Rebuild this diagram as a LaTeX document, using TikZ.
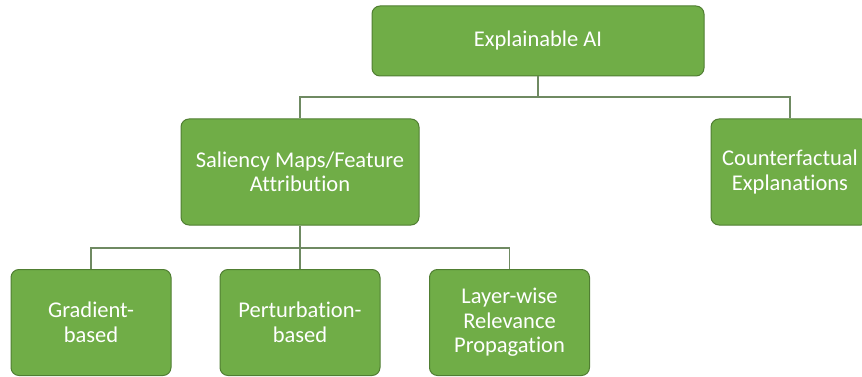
\documentclass[tikz,border=0pt]{standalone}
\usepackage{fontspec}
\setmainfont[Ligatures=NoCommon]{Carlito}
\begin{document}
\begin{tikzpicture}[x=1pt,y=-1pt,
  box/.style={draw=boxborder, line width=1pt, fill=boxfill, rounded corners=8pt,
    text=white, align=center, font=\fontsize{22.5}{24.5}\selectfont, inner sep=0pt},
  conn/.style={draw=connline, line width=1.4pt}]
\definecolor{boxfill}{HTML}{70AD47}
\definecolor{boxborder}{HTML}{507E32}
\definecolor{connline}{HTML}{6F8A62}
\useasboundingbox (0,0) rectangle (862,377);
\node[box, minimum width=332pt, minimum height=70pt] (xai) at (538,41) {Explainable AI};
\node[box, minimum width=238pt, minimum height=106pt] (sal) at (300,172) {Saliency Maps/Feature\\Attribution};
\node[box, minimum width=158pt, minimum height=106pt] (cf) at (790,172) {Counterfactual\\Explanations};
\node[box, minimum width=160pt, minimum height=106pt] (gb) at (91,322.5) {Gradient-\\based};
\node[box, minimum width=160pt, minimum height=106pt] (pb) at (300,322.5) {Perturbation-\\based};
\node[box, minimum width=160pt, minimum height=106pt] (lrp) at (509.5,322.5) {Layer-wise\\Relevance\\Propagation};
\coordinate (h1) at (0,97);
\coordinate (h2) at (0,248);
\draw[conn] (xai.south) -- (xai.south |- h1) -| (sal.north);
\draw[conn] (xai.south |- h1) -| (cf.north);
\draw[conn] (sal.south) -- (sal.south |- h2) -| (gb.north);
\draw[conn] (sal.south |- h2) -| (pb.north);
\draw[conn] (sal.south |- h2) -| (lrp.north);
\end{tikzpicture}
\end{document}
